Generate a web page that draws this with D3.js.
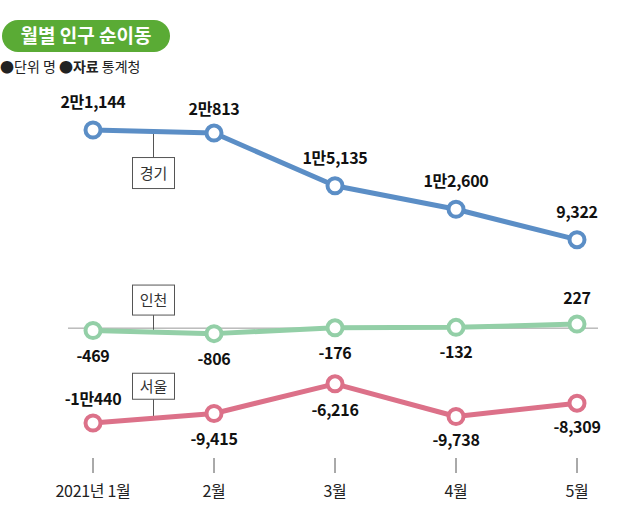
<!DOCTYPE html>
<html>
<head>
<meta charset="utf-8">
<script src="https://cdn.jsdelivr.net/npm/d3@7"></script>
<style>
  html, body { margin: 0; padding: 0; background: #fff; }
  svg { display: block; font-family: "Noto Sans CJK KR", "Noto Sans", sans-serif; }
</style>
</head>
<body>
<svg id="chart" width="640" height="525"></svg>
<script>
const months = ["2021년 1월", "2월", "3월", "4월", "5월"];
const gyeonggi = [21144, 20813, 15135, 12600, 9322];
const incheon = [-469, -806, -176, -132, 227];
const seoul = [-10440, -9415, -6216, -9738, -8309];
const gyeonggiLabels = ["2만1,144", "2만813", "1만5,135", "1만2,600", "9,322"];
const incheonLabels = ["-469", "-806", "-176", "-132", "227"];
const seoulLabels = ["-1만440", "-9,415", "-6,216", "-9,738", "-8,309"];
const seriesNames = ["경기", "인천", "서울"];
const titleText = "월별 인구 순이동";

const svg = d3.select("#chart");
const x = d3.scalePoint().domain(months).range([93, 577]);
const y = d3.scaleLinear().domain([-10440, 21144]).range([423, 130]);

// Title pill
svg.append("rect").attr("x", 2).attr("y", 20).attr("width", 168).attr("height", 32)
  .attr("rx", 16).attr("fill", "#5aab35");
svg.append("text").attr("x", 86).attr("y", 43).attr("text-anchor", "middle")
  .attr("fill", "#fff").attr("font-size", 19).attr("font-weight", 700).text(titleText);

// Subtitle
const sub = svg.append("text").attr("x", 0).attr("y", 72).attr("font-size", 14).attr("fill", "#222");
sub.append("tspan").text("●단위 명 ●");
sub.append("tspan").attr("font-weight", 700).text("자료");
sub.append("tspan").text(" 통계청");

// Zero baseline
svg.append("line").attr("x1", 68).attr("x2", 598).attr("y1", y(0) + 2).attr("y2", y(0) + 2)
  .attr("stroke", "#999").attr("stroke-width", 1);

// x axis ticks & labels
const xa = svg.append("g");
months.forEach(m => {
  xa.append("line").attr("x1", x(m)).attr("x2", x(m)).attr("y1", 458).attr("y2", 473)
    .attr("stroke", "#555").attr("stroke-width", 1);
  xa.append("text").attr("x", x(m)).attr("y", 497).attr("text-anchor", "middle")
    .attr("font-size", 16).attr("fill", "#222").attr("letter-spacing", -0.3).text(m);
});

const series = [
  {name: seriesNames[0], values: gyeonggi, labels: gyeonggiLabels, color: "#5b8ec6",
   labelDy: [-22, -18, -22, -22, -22], box: "below", boxH: 31, boxGap: 26},
  {name: seriesNames[1], values: incheon, labels: incheonLabels, color: "#93cfa7",
   labelDy: [31, 31, 31, 31, -20], box: "above", boxH: 30, boxGap: 17},
  {name: seriesNames[2], values: seoul, labels: seoulLabels, color: "#dc7189",
   labelDy: [-18, 32, 32, 30, 30], box: "above", boxH: 26, boxGap: 19}
];

const line = d3.line().x(d => x(d.m)).y(d => y(d.v));

series.forEach(s => {
  const pts = s.values.map((v, i) => ({m: months[i], v, label: s.labels[i], i}));
  const g = svg.append("g");

  // Series name box with connector
  const mx = (x(months[0]) + x(months[1])) / 2;
  const my = (y(s.values[0]) + y(s.values[1])) / 2;
  const bw = 42;
  let by, cy1, cy2;
  if (s.box === "below") {
    by = my + s.boxGap; cy1 = my; cy2 = by;
  } else {
    by = my - s.boxGap - s.boxH; cy1 = by + s.boxH; cy2 = my;
  }
  g.append("line").attr("x1", mx).attr("x2", mx).attr("y1", cy1).attr("y2", cy2)
    .attr("stroke", "#555").attr("stroke-width", 1);
  g.append("rect").attr("x", mx - bw / 2).attr("y", by).attr("width", bw).attr("height", s.boxH)
    .attr("fill", "#fff").attr("stroke", "#555").attr("stroke-width", 1);
  g.append("text").attr("x", mx).attr("y", by + s.boxH / 2 + 5.5).attr("text-anchor", "middle")
    .attr("font-size", 15).attr("fill", "#333").text(s.name);

  g.append("path").datum(pts).attr("d", line).attr("fill", "none")
    .attr("stroke", s.color).attr("stroke-width", 5).attr("stroke-linejoin", "round");

  g.selectAll("circle").data(pts).join("circle")
    .attr("cx", d => x(d.m)).attr("cy", d => y(d.v)).attr("r", 7.5)
    .attr("fill", "#fff").attr("stroke", s.color).attr("stroke-width", 4);

  g.selectAll("text.val").data(pts).join("text").attr("class", "val")
    .attr("x", d => x(d.m)).attr("y", d => y(d.v) + s.labelDy[d.i])
    .attr("text-anchor", "middle").attr("font-size", 16).attr("font-weight", 700)
    .attr("fill", "#111").attr("letter-spacing", -0.3).text(d => d.label);
});
</script>
</body>
</html>
